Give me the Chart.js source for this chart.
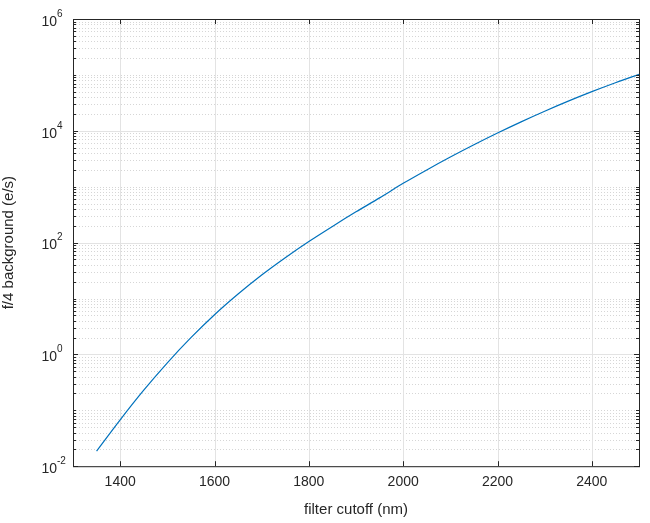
<!DOCTYPE html>
<html><head><meta charset="utf-8">
<script src="https://cdn.jsdelivr.net/npm/chart.js@4"></script>
<style>html,body{margin:0;background:#fff}#w{width:650px;height:523px}</style>
</head><body><div id="w"><canvas id="c"></canvas></div>
<script>
const cutoff = [1350,1400,1450,1500,1550,1600,1650,1700,1750,1800,1850,1900,1950,2000,2050,2100,2150,2200,2250,2300,2350,2400,2450,2500];
const logBg = [-1.73,-1.17,-0.64,-0.15,0.30,0.71,1.08,1.42,1.73,2.02,2.29,2.55,2.80,3.06,3.30,3.53,3.75,3.96,4.16,4.35,4.53,4.70,4.86,5.01];
const background = logBg.map(v => Math.pow(10, v));
const xTicks = [1400,1600,1800,2000,2200,2400];
const yDecades = [-2,0,2,4,6];
const data = cutoff.map((x,i)=>({x, y: background[i]}));
const gridPlugin = {
  id:'grid',
  beforeDatasetsDraw(chart){
    const {ctx, chartArea:a, scales:{x,y}} = chart;
    ctx.save(); ctx.lineWidth=1;
    ctx.strokeStyle='#d6d6d6'; ctx.setLineDash([1,2]);
    for (let d=-2; d<6; d++) for (let m=1; m<10; m++){
      if (m===1 && d%2===0) continue;
      const p=Math.round(y.getPixelForValue(m*Math.pow(10,d)))+0.5;
      ctx.beginPath(); ctx.moveTo(a.left,p); ctx.lineTo(a.right,p); ctx.stroke();
    }
    ctx.setLineDash([]); ctx.strokeStyle='#e3e3e3';
    yDecades.forEach(d=>{const p=Math.round(y.getPixelForValue(Math.pow(10,d)))+0.5;
      ctx.beginPath(); ctx.moveTo(a.left,p); ctx.lineTo(a.right,p); ctx.stroke();});
    xTicks.forEach(v=>{const p=Math.round(x.getPixelForValue(v))+0.5;
      ctx.beginPath(); ctx.moveTo(p,a.top); ctx.lineTo(p,a.bottom); ctx.stroke();});
    ctx.restore();
  },
  afterDatasetsDraw(chart){
    const {ctx, chartArea:a, scales:{x,y}} = chart;
    ctx.save(); ctx.strokeStyle='#262626'; ctx.lineWidth=1;
    ctx.strokeRect(a.left+0.5,a.top+0.5,a.right-a.left,a.bottom-a.top);
    ctx.beginPath();
    xTicks.forEach(v=>{const p=Math.round(x.getPixelForValue(v))+0.5;
      ctx.moveTo(p,a.bottom); ctx.lineTo(p,a.bottom-5); ctx.moveTo(p,a.top); ctx.lineTo(p,a.top+5);});
    yDecades.forEach(d=>{const p=Math.round(y.getPixelForValue(Math.pow(10,d)))+0.5;
      ctx.moveTo(a.left,p); ctx.lineTo(a.left+5,p); ctx.moveTo(a.right,p); ctx.lineTo(a.right-5,p);});
    for (let d=-2; d<6; d++) for (let m=1; m<10; m++){
      if (m===1 && d%2===0) continue;
      const p=Math.round(y.getPixelForValue(m*Math.pow(10,d)))+0.5;
      ctx.moveTo(a.left,p); ctx.lineTo(a.left+3,p); ctx.moveTo(a.right,p); ctx.lineTo(a.right-3,p);}
    ctx.stroke();
    ctx.fillStyle='#262626'; ctx.textBaseline='middle';
    yDecades.forEach(d=>{const p=y.getPixelForValue(Math.pow(10,d));
      ctx.font='14px Arial, "Liberation Sans"'; ctx.textAlign='right';
      ctx.fillText('10', a.left-16, p+3);
      ctx.font='10px Arial, "Liberation Sans"'; ctx.textAlign='left';
      ctx.fillText(String(d), a.left-16, p-5);
    });
    ctx.restore();
  }
};
new Chart(document.getElementById('c'), {
  type:'line',
  data:{datasets:[{data, borderColor:'#0072BD', borderWidth:1.2, pointRadius:0, cubicInterpolationMode:'monotone', fill:false}]},
  options:{
    responsive:true, maintainAspectRatio:false, animation:false,
    layout:{padding:{top:19,right:11,left:0,bottom:0}},
    plugins:{legend:{display:false}, tooltip:{enabled:false}},
    scales:{
      x:{type:'linear', min:1300, max:2500,
        afterBuildTicks(s){s.ticks=xTicks.map(v=>({value:v}));},
        grid:{display:false, drawTicks:false}, border:{display:false},
        ticks:{color:'#262626', callback:v=>String(v), font:{size:14, family:'Arial, "Liberation Sans"'}, padding:8, maxRotation:0},
        title:{display:true, text:'filter cutoff (nm)', color:'#262626', font:{size:15, family:'Arial, "Liberation Sans"'}, padding:{top:2,bottom:4}}},
      y:{type:'logarithmic', min:0.01, max:1e6,
        afterBuildTicks(s){s.ticks=yDecades.map(d=>({value:Math.pow(10,d)}));},
        afterFit(s){s.width=73;},
        grid:{display:false, drawTicks:false}, border:{display:false},
        ticks:{callback:()=> '', padding:0},
        title:{display:true, text:'f/4 background (e/s)', color:'#262626', font:{size:15, family:'Arial, "Liberation Sans"'}, padding:{top:0,bottom:0}}}
    }
  },
  plugins:[gridPlugin]
});
</script></body></html>
